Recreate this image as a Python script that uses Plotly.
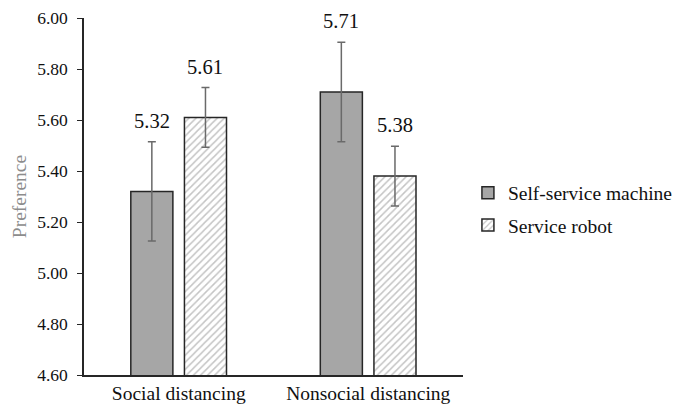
import plotly.graph_objects as go

categories = ["Social distancing", "Nonsocial distancing"]
series_names = ["Self-service machine", "Service robot"]
machine_vals = [5.32, 5.71]
robot_vals = [5.61, 5.38]
machine_err = [0.195, 0.195]
robot_err = [0.117, 0.117]
y_ticks = [4.60, 4.80, 5.00, 5.20, 5.40, 5.60, 5.80, 6.00]

FONT = "Liberation Serif, Times New Roman, serif"
x_idx = [0, 1]

fig = go.Figure()
fig.add_trace(go.Bar(
    x=x_idx, y=machine_vals, name=series_names[0], legendgroup="a",
    width=0.222, offset=-0.253,
    marker=dict(color="#a6a6a6", line=dict(color="#262626", width=1.5)),
    error_y=dict(type="data", array=machine_err, color="#6a6a6a", thickness=1.5, width=4),
))
fig.add_trace(go.Bar(
    x=x_idx, y=robot_vals, name=series_names[1], legendgroup="b",
    width=0.222, offset=0.03,
    marker=dict(color="white", line=dict(color="#262626", width=1.5),
                pattern=dict(shape="/", fgcolor="#8a8a8a", bgcolor="white", size=5, solidity=0.3)),
    error_y=dict(type="data", array=robot_err, color="#6a6a6a", thickness=1.5, width=4),
))

for vals, errs, off in [(machine_vals, machine_err, -0.253), (robot_vals, robot_err, 0.03)]:
    for i, (v, e) in enumerate(zip(vals, errs)):
        fig.add_annotation(x=i + off + 0.111, y=v + e, text=f"{v:.2f}", showarrow=False,
                           yanchor="middle", yshift=21, xref="x", yref="y",
                           font=dict(family=FONT, size=20.5, color="#111111"))

fig.update_layout(
    width=688, height=412,
    margin=dict(l=76, r=233, t=10, b=45, autoexpand=False),
    plot_bgcolor="white", paper_bgcolor="white",
    font=dict(family=FONT, color="#111111"),
    showlegend=True,
    legend=dict(x=1.013, y=0.465, xanchor="left", yanchor="middle",
                font=dict(family=FONT, size=19.5, color="#111111"),
                tracegroupgap=4, bgcolor="rgba(0,0,0,0)"),
)
fig.update_xaxes(
    range=[-0.5, 1.5], tickmode="array", tickvals=x_idx, ticktext=categories,
    showline=True, linecolor="#262626", linewidth=1.5, ticks="", showgrid=False,
    tickfont=dict(family=FONT, size=19.5, color="#111111"), zeroline=False,
    automargin=False,
)
fig.update_yaxes(
    range=[4.6, 6.0], tickmode="array", tickvals=y_ticks,
    ticktext=[f"{t:.2f}" for t in y_ticks],
    showline=True, linecolor="#262626", linewidth=1.5, ticks="outside", ticklen=5,
    tickcolor="#262626", showgrid=False, zeroline=False, automargin=False,
    ticklabelstandoff=6,
    tickfont=dict(family=FONT, size=17.5, color="#111111"),
    title=dict(text="Preference", font=dict(family=FONT, size=19.5, color="#8c8c8c"), standoff=5),
)

fig.write_html("out.html")
